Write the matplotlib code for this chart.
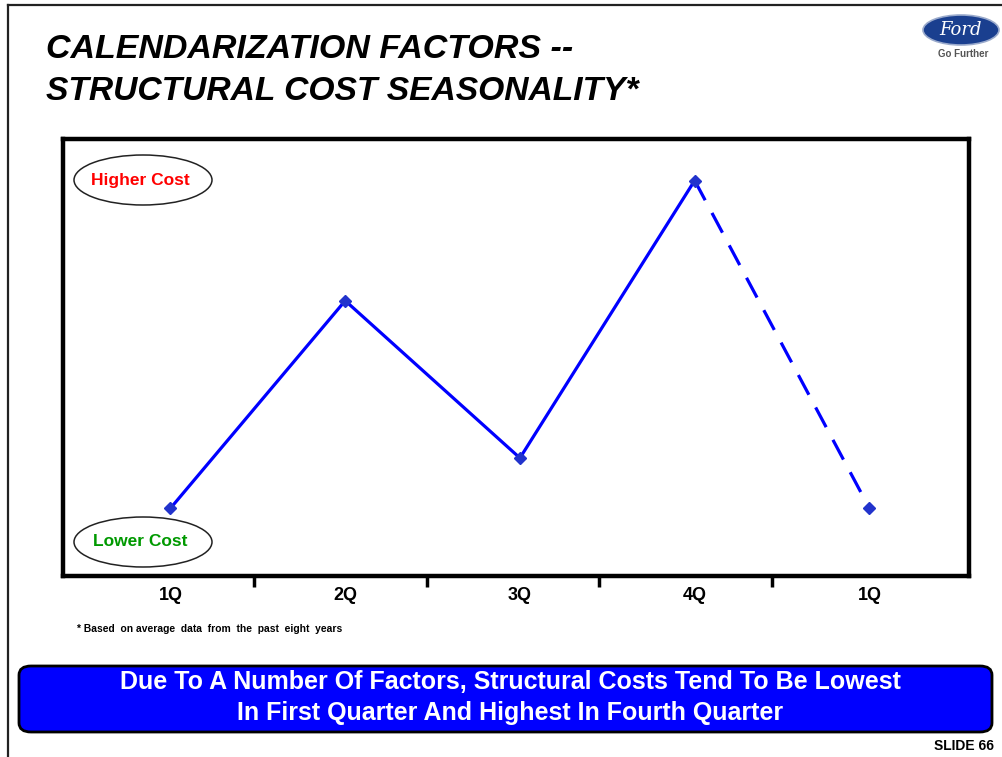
import matplotlib.pyplot as plt
from matplotlib.patches import Ellipse, FancyBboxPatch
from matplotlib.lines import Line2D

# data (relative cost index)
quarters = ['1Q', '2Q', '3Q', '4Q', '1Q']
cost_index = [1.55, 6.3, 2.7, 9.05, 1.55]
x = list(range(len(quarters)))

plt.rcParams['font.family'] = ['Liberation Sans', 'DejaVu Sans']

fig = plt.figure(figsize=(10.03, 7.57), dpi=100)

# slide border (top and left edges visible)
fig.add_artist(Line2D([8/1003, 1], [1-5/757, 1-5/757], color='#222222', lw=1.6))
fig.add_artist(Line2D([8/1003, 8/1003], [0, 1-5/757], color='#222222', lw=1.6))

# title
fig.text(46/1003, 1-50/757, 'CALENDARIZATION FACTORS --', fontsize=24.5,
         fontweight='bold', fontstyle='italic', va='center', ha='left')
fig.text(46/1003, 1-91/757, 'STRUCTURAL COST SEASONALITY*', fontsize=24.2,
         fontweight='bold', fontstyle='italic', va='center', ha='left')

# ford logo
logo = Ellipse((961/1003, 1-30/757), 76/1003, 30/757, transform=fig.transFigure,
               facecolor='#1a3f8f', edgecolor='#9aaacc', lw=1.2)
fig.add_artist(logo)
fig.text(961/1003, 1-30/757, 'Ford', color='white', fontsize=13, fontstyle='italic',
         family=['DejaVu Serif'], ha='center', va='center')
fig.text(963/1003, 1-54/757, 'Go Further', color='#555555', fontsize=7,
         fontweight='bold', ha='center', va='center')

ax = fig.add_axes([63/1003, 1-576/757, 906/1003, 437/757])
ax.plot(x[:4], cost_index[:4], color='#0000ff', lw=2.3)
ax.plot(x[3:], cost_index[3:], color='#0000ff', lw=2.3, dashes=(7, 4.5))
ax.plot(x, cost_index, ls='none', marker='D', ms=6.5, color='#2233cc')

ax.set_xlim(-0.615, 4.57)
ax.set_ylim(0, 10)
for s in ax.spines.values():
    s.set_linewidth(3.2)
ax.set_yticks([])
ax.set_xticks([0.48, 1.47, 2.45, 3.44])
ax.set_xticklabels([])
ax.tick_params(axis='x', length=8, width=2.5, direction='out')
ax.set_xticks(x, minor=True)
ax.set_xticklabels(quarters, minor=True, fontsize=13, fontweight='bold')
ax.tick_params(axis='x', which='minor', length=0, pad=8)

# higher / lower cost labels
for cy, txt, col in [(180, 'Higher Cost', '#ff0000'), (542, 'Lower Cost', '#009900')]:
    e = Ellipse((143/1003, 1-cy/757), 138/1003, 50/757, transform=fig.transFigure,
                facecolor='white', edgecolor='#222222', lw=1.1)
    fig.add_artist(e)
    fig.text(140/1003, 1-cy/757, txt, color=col, fontsize=12.5, fontweight='bold',
             ha='center', va='center')

fig.text(77/1003, 1-629/757, '* Based  on average  data  from  the  past  eight  years',
         fontsize=7.4, fontweight='bold', ha='left', va='center')

# bottom banner
box = FancyBboxPatch((19/1003, 1-732/757), 973/1003, 66/757,
                     boxstyle='round,pad=0,rounding_size=0.012',
                     transform=fig.transFigure, facecolor='#0000ff',
                     edgecolor='black', lw=2)
fig.add_artist(box)
fig.text(510/1003, 1-682/757, 'Due To A Number Of Factors, Structural Costs Tend To Be Lowest',
         color='white', fontsize=18, fontweight='bold', ha='center', va='center')
fig.text(510/1003, 1-713/757, 'In First Quarter And Highest In Fourth Quarter',
         color='white', fontsize=18, fontweight='bold', ha='center', va='center')

fig.text(994/1003, 1-746/757, 'SLIDE 66', fontsize=10, fontweight='bold',
         ha='right', va='center')

fig.savefig('out.png', dpi=100)
